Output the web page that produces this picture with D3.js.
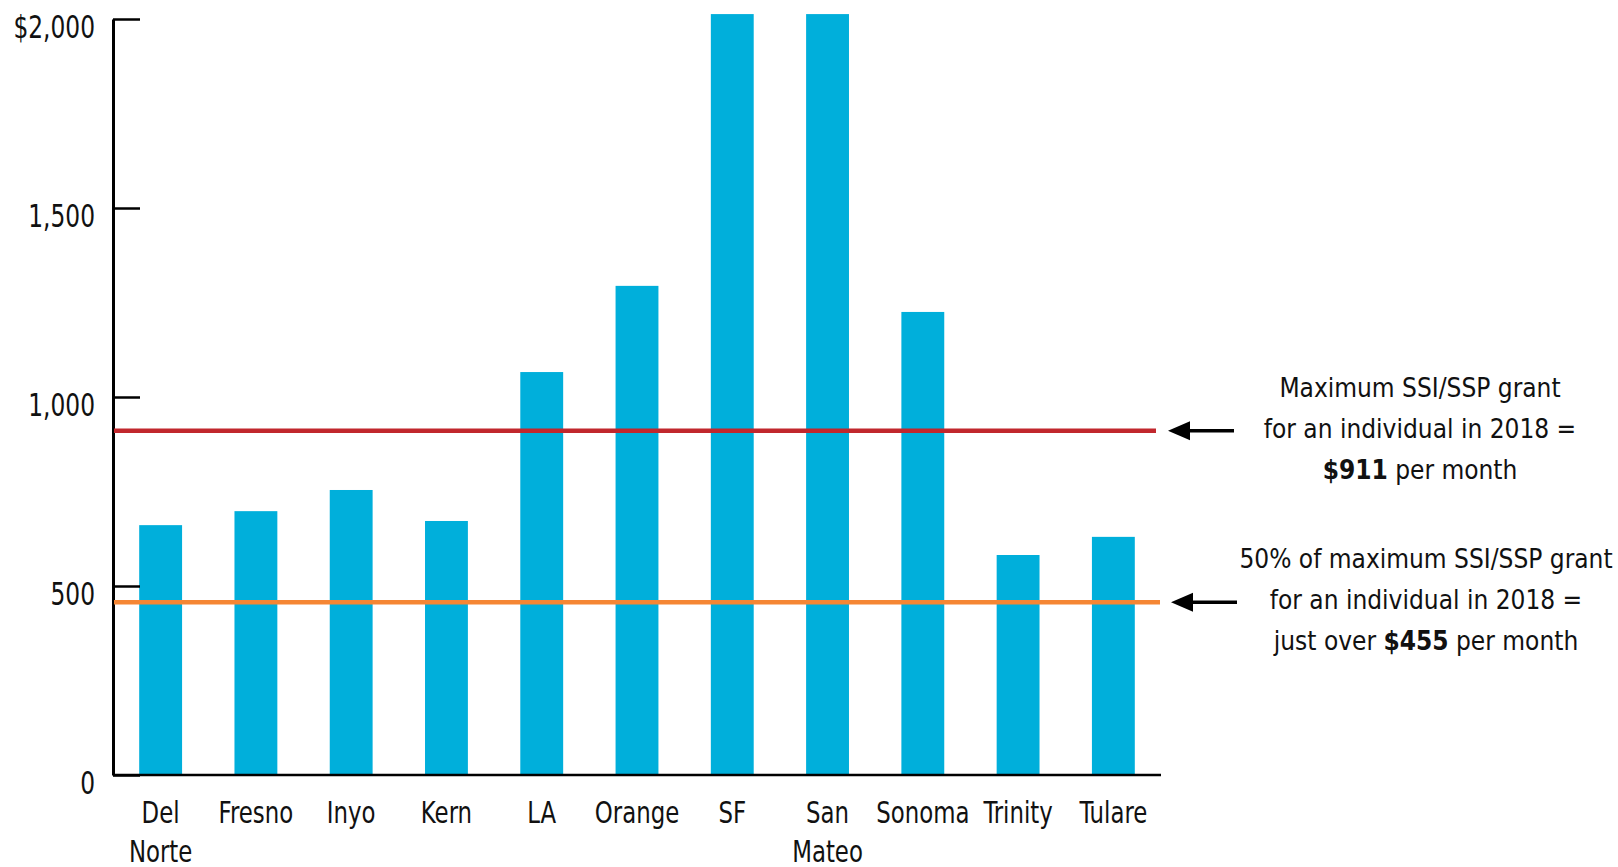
<!DOCTYPE html>
<html>
<head>
<meta charset="utf-8">
<script src="https://cdn.jsdelivr.net/npm/d3@7"></script>
<style>
  body { margin: 0; background: #fff; }
  svg text { font-family: "DejaVu Sans Condensed", "Liberation Sans Narrow", sans-serif; fill: #111; }
</style>
</head>
<body>
<div id="chart"></div>
<script>
// data
var counties = ["Del Norte", "Fresno", "Inyo", "Kern", "LA", "Orange", "SF", "San Mateo", "Sonoma", "Trinity", "Tulare"];
var rents = [661, 698, 754, 672, 1066, 1294, 2013, 2013, 1225, 582, 630];
var yTicks = [0, 500, 1000, 1500, 2000];

// reference lines: max SSI/SSP grant and 50% of it
var refValues = [911, 457];
var refColors = ["#c1272d", "#f58634"];
var refNotes = [
  [["Maximum SSI/SSP grant"], ["for an individual in 2018 ="], ["$911", " per month"]],
  [["50% of maximum SSI/SSP grant"], ["for an individual in 2018 ="], ["just over ", "$455", " per month"]]
];

var W = 1618, H = 867;
var squeeze = 0.81; // condensed look for axis + category labels

var svg = d3.select("#chart").append("svg")
  .attr("width", W).attr("height", H);

var x = d3.scaleBand().domain(counties).range([113, 1161])
  .paddingInner(0.55).paddingOuter(0.275);
var y = d3.scaleLinear().domain([0, 2000]).range([775, 19]);

// bars
svg.append("g").selectAll("rect")
  .data(counties)
  .join("rect")
  .attr("x", function (d) { return x(d); })
  .attr("width", x.bandwidth())
  .attr("y", function (d, i) { return y(rents[i]); })
  .attr("height", function (d, i) { return y(0) - y(rents[i]); })
  .attr("fill", "#00afdb");

// y axis, ticks point inward
var yAxis = d3.axisLeft(y).tickValues(yTicks)
  .tickSizeInner(-27).tickSizeOuter(0).tickPadding(18)
  .tickFormat(function (d) { return d === 2000 ? "$2,000" : d3.format(",")(d); });

var gy = svg.append("g").attr("transform", "translate(113,0)").call(yAxis);
gy.select(".domain").attr("stroke", "#000").attr("stroke-width", 3);
gy.selectAll(".tick line").attr("stroke", "#000").attr("stroke-width", 2.5);
gy.selectAll(".tick text")
  .attr("x", -18 / squeeze)
  .attr("dy", "18px")
  .attr("transform", "scale(" + squeeze + ",1)")
  .style("font-size", "32px")
  .attr("fill", "#111");

// baseline
svg.append("line")
  .attr("x1", 113).attr("x2", 1161)
  .attr("y1", y(0)).attr("y2", y(0))
  .attr("stroke", "#000").attr("stroke-width", 2.5);

// category labels (wrap two-word names)
var xl = svg.append("g");
counties.forEach(function (c) {
  var words = (c === "Del Norte" || c === "San Mateo") ? c.split(" ") : [c];
  var t = xl.append("text")
    .attr("text-anchor", "middle")
    .attr("transform", "translate(" + (x(c) + x.bandwidth() / 2) + ",0) scale(0.82,1)")
    .style("font-size", "31px");
  words.forEach(function (w, j) {
    t.append("tspan")
      .attr("x", 0)
      .attr("y", 823 + j * 39)
      .text(w);
  });
});

// reference lines
svg.append("g").selectAll("line")
  .data(refValues)
  .join("line")
  .attr("x1", 114).attr("x2", function (d, i) { return i === 0 ? 1156 : 1160; })
  .attr("y1", function (d) { return y(d); })
  .attr("y2", function (d) { return y(d); })
  .attr("stroke", function (d, i) { return refColors[i]; })
  .attr("stroke-width", 4.5);

// arrows and notes
refValues.forEach(function (v, i) {
  var ay = y(v);
  var tip = 1168 + i * 3;
  svg.append("line")
    .attr("x1", tip + 18).attr("x2", tip + 66)
    .attr("y1", ay).attr("y2", ay)
    .attr("stroke", "#000").attr("stroke-width", 3.5);
  svg.append("path")
    .attr("d", "M" + tip + "," + ay + "L" + (tip + 22) + "," + (ay - 9.5) + "L" + (tip + 22) + "," + (ay + 9.5) + "Z")
    .attr("fill", "#000");

  var cx = i === 0 ? 1420 : 1426;
  var top = i === 0 ? 397 : 568;
  refNotes[i].forEach(function (parts, j) {
    var t = svg.append("text")
      .attr("x", cx).attr("y", top + j * 41)
      .attr("text-anchor", "middle")
      .style("font-size", "26px");
    parts.forEach(function (p) {
      t.append("tspan")
        .style("font-weight", p.charAt(0) === "$" ? "bold" : "normal")
        .text(p);
    });
  });
});
</script>
</body>
</html>
